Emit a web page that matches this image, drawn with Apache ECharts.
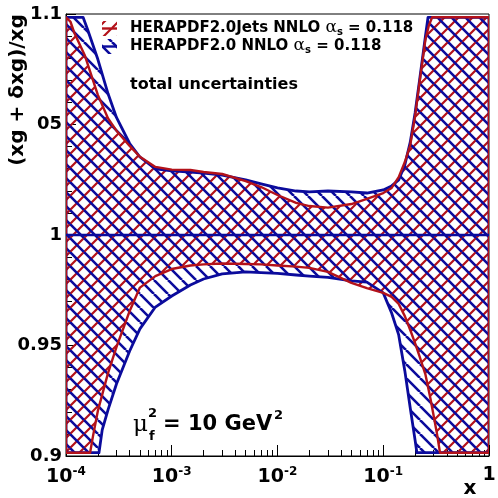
<!DOCTYPE html>
<html><head><meta charset="utf-8">
<script src="https://cdn.jsdelivr.net/npm/echarts@6/dist/echarts.min.js"></script>
<style>html,body{margin:0;padding:0;background:#fff}#c{width:498px;height:498px}</style>
</head><body><div id="c"></div>
<script>
// ---------------- data ----------------
// HERAPDF2.0 NNLO (blue) upper / lower edge of relative uncertainty band
const xBlueUp = [1e-4, 1.45e-4, 1.6e-4, 2e-4, 2.5e-4, 3e-4, 4e-4, 5e-4, 7e-4, 1e-3, 1.5e-3, 2e-3, 3e-3, 5e-3, 7e-3, 1e-2, 1.5e-2, 2e-2, 3e-2, 5e-2, 7e-2, 0.1, 0.12, 0.14, 0.16, 0.18, 0.2, 0.22, 0.25, 0.265, 1];
const blueUp  = [1.0985, 1.0985, 1.093, 1.0795, 1.0639, 1.0532, 1.0414, 1.0353, 1.0299, 1.029, 1.0285, 1.028, 1.0271, 1.0249, 1.0231, 1.0213, 1.0199, 1.0195, 1.0199, 1.0195, 1.019, 1.0204, 1.0222, 1.0249, 1.0317, 1.042, 1.0552, 1.0697, 1.0896, 1.0985, 1.0985];
const xBlueLo = [1e-4, 2.05e-4, 2.2e-4, 2.5e-4, 3e-4, 4e-4, 5e-4, 7e-4, 1e-3, 1.5e-3, 2e-3, 3e-3, 5e-3, 7e-3, 1e-2, 1.5e-2, 2e-2, 3e-2, 5e-2, 7e-2, 0.1, 0.12, 0.14, 0.16, 0.18, 0.2, 0.208, 1];
const blueLo  = [0.9015, 0.9015, 0.9118, 0.921, 0.9326, 0.9475, 0.9575, 0.9674, 0.9724, 0.9774, 0.9801, 0.9824, 0.9833, 0.983, 0.9826, 0.9819, 0.9814, 0.9808, 0.9792, 0.9787, 0.9738, 0.9647, 0.9548, 0.9385, 0.9217, 0.9072, 0.9015, 0.9015];
// HERAPDF2.0Jets NNLO (red)
const xRedUp = [1e-4, 1.1e-4, 1.2e-4, 1.5e-4, 2e-4, 2.5e-4, 3e-4, 4e-4, 5e-4, 7e-4, 1e-3, 1.5e-3, 2e-3, 3e-3, 5e-3, 7e-3, 1e-2, 1.5e-2, 2e-2, 3e-2, 5e-2, 7e-2, 0.1, 0.12, 0.14, 0.16, 0.18, 0.2, 0.22, 0.25, 0.27, 0.29, 1];
const redUp  = [1.0985, 1.0966, 1.0914, 1.0815, 1.0634, 1.0527, 1.0472, 1.0403, 1.0354, 1.0308, 1.0296, 1.0294, 1.0285, 1.0276, 1.0244, 1.0217, 1.0181, 1.0145, 1.0131, 1.0124, 1.014, 1.0163, 1.019, 1.0213, 1.0262, 1.033, 1.0407, 1.0538, 1.0688, 1.0882, 1.0948, 1.0985, 1.0985];
const xRedLo = [1e-4, 1.69e-4, 1.8e-4, 2e-4, 2.5e-4, 3e-4, 4e-4, 5e-4, 7e-4, 1e-3, 1.5e-3, 2e-3, 3e-3, 5e-3, 7e-3, 1e-2, 1.5e-2, 2e-2, 3e-2, 5e-2, 7e-2, 0.1, 0.12, 0.14, 0.16, 0.18, 0.2, 0.22, 0.25, 0.28, 0.3, 0.32, 0.344, 1];
const redLo  = [0.9015, 0.9015, 0.909, 0.9204, 0.9376, 0.9493, 0.9656, 0.9762, 0.9814, 0.9846, 0.9862, 0.9867, 0.9871, 0.9869, 0.9867, 0.9862, 0.9857, 0.9851, 0.9833, 0.9783, 0.976, 0.9738, 0.972, 0.9688, 0.9633, 0.957, 0.9511, 0.9452, 0.9371, 0.9258, 0.9181, 0.9109, 0.9015, 0.9015];
// central value (ratio = 1)
const xCentral = [1e-4, 1];
const central  = [1, 1];
// tick labels
const yTickValues = [0.9, 0.95, 1, 1.05, 1.1];
const yTickLabels = ['0.9', '0.95', '1', '05', '1.1'];
const xTickBase = ['10', '10', '10', '10', '1'];
const xTickExp  = ['-4', '-3', '-2', '-1', ''];
const legendNames = ['HERAPDF2.0Jets NNLO', 'HERAPDF2.0 NNLO'];
const alphaS = '0.118';

// ---------------- styling ----------------
const BLUE = '#0b0b9c';
const RED = '#b3121a';
const FONT = '"DejaVu Sans", "Liberation Sans", sans-serif';
const SERIF = '"DejaVu Serif", "Liberation Serif", serif';

function hatch(color, slash, s, w) {
  const c = document.createElement('canvas');
  c.width = s; c.height = s;
  const g = c.getContext('2d');
  g.strokeStyle = color; g.lineWidth = w;
  g.beginPath();
  for (const k of [-s, 0, s]) {
    if (slash) { g.moveTo(k, s); g.lineTo(k + s, 0); }
    else { g.moveTo(k, 0); g.lineTo(k + s, s); }
  }
  g.stroke();
  return { image: c, repeat: 'repeat' };
}
const redPat = hatch(RED, true, 14, 2.2);
const bluePat = hatch(BLUE, false, 14, 2.6);

function band(name, xu, yu, xl, yl, fill, stroke, lw, z) {
  return {
    type: 'custom', name: name, z: z, silent: true, clip: true,
    xAxisIndex: 0, yAxisIndex: 0,
    data: [[xu[0], yu[0]]],
    renderItem: function (params, api) {
      const pts = [];
      for (let i = 0; i < xu.length; i++) pts.push(api.coord([xu[i], yu[i]]));
      for (let i = xl.length - 1; i >= 0; i--) pts.push(api.coord([xl[i], yl[i]]));
      return { type: 'polygon', shape: { points: pts },
        style: { fill: fill || 'none', stroke: stroke || 'none', lineWidth: lw || 0, lineJoin: 'round' } };
    }
  };
}

const minorX = [];
for (let d = -4; d < 0; d++) for (let m = 2; m <= 9; m++) minorX.push(m * Math.pow(10, d));

const chart = echarts.init(document.getElementById('c'), null, { renderer: 'canvas' });
chart.setOption({
  animation: false,
  backgroundColor: '#fff',
  grid: { left: 66, right: 9, top: 14, bottom: 42, show: true, borderColor: '#000', borderWidth: 1, outerBoundsMode: 'none', containLabel: false },
  xAxis: [{
    type: 'log', logBase: 10, min: 1e-4, max: 1, interval: 1, position: 'bottom',
    axisLine: { show: true, onZero: false, lineStyle: { color: '#000', width: 1 } },
    axisTick: { show: true, inside: true, length: 11, lineStyle: { color: '#000', width: 1 } },
    minorTick: { show: false },
    splitLine: { show: false },
    axisLabel: {
      margin: 10,
      formatter: function (v) {
        const i = Math.round(Math.log10(v)) + 4;
        return xTickExp[i] ? '{b|' + xTickBase[i] + '}{s|' + xTickExp[i] + '}' : '{b|' + xTickBase[i] + '}';
      },
      rich: {
        b: { fontFamily: FONT, fontWeight: 'bold', fontSize: 19, color: '#000' },
        s: { fontFamily: FONT, fontWeight: 'bold', fontSize: 12, color: '#000', padding: [0, 0, 10, 0] }
      }
    }
  }, {
    type: 'log', logBase: 10, min: 1e-4, max: 1, position: 'bottom', offset: 0,
    axisLine: { show: false },
    axisTick: { show: true, inside: true, length: 6, customValues: minorX, lineStyle: { color: '#000', width: 1 } },
    axisLabel: { show: false },
    splitLine: { show: false }
  }],
  yAxis: {
    type: 'value', min: 0.9, max: 1.1, interval: 0.05,
    axisLine: { show: true, onZero: false, lineStyle: { color: '#000', width: 1 } },
    axisTick: { show: true, inside: true, length: 10, lineStyle: { color: '#000', width: 1 } },
    minorTick: { show: true, splitNumber: 5, length: 6, lineStyle: { color: '#000', width: 1 } },
    splitLine: { show: false },
    axisLabel: {
      margin: 4, fontFamily: FONT, fontWeight: 'bold', fontSize: 18, color: '#000',
      formatter: function (v) {
        const i = Math.round((v - yTickValues[0]) / 0.05);
        return yTickLabels[i];
      }
    }
  },
  series: [
    band(legendNames[0], xRedUp, redUp, xRedLo, redLo, redPat, null, 0, 1),
    band(legendNames[1], xBlueUp, blueUp, xBlueLo, blueLo, bluePat, null, 0, 2),
    band(legendNames[1] + ' edge', xBlueUp, blueUp, xBlueLo, blueLo, null, BLUE, 2.8, 3),
    band(legendNames[0] + ' edge', xRedUp, redUp, xRedLo, redLo, null, RED, 2.4, 4),
    {
      type: 'line', name: 'central', z: 5, silent: true, symbol: 'none',
      data: xCentral.map((x, i) => [x, central[i]]),
      lineStyle: { color: BLUE, width: 2.4 }
    }
  ],
  graphic: [
    // legend
    { type: 'rect', z: 10, shape: { x: 102, y: 21, width: 15, height: 15 }, style: { fill: redPat } },
    { type: 'line', z: 10, shape: { x1: 102, y1: 28.5, x2: 117, y2: 28.5 }, style: { stroke: RED, lineWidth: 2.4 } },
    { type: 'rect', z: 10, shape: { x: 102, y: 39, width: 15, height: 15 }, style: { fill: bluePat } },
    { type: 'line', z: 10, shape: { x1: 102, y1: 46.5, x2: 117, y2: 46.5 }, style: { stroke: BLUE, lineWidth: 2.4 } },
    { type: 'text', z: 10, x: 130, y: 28, style: {
        text: '{b|' + legendNames[0] + ' }{a|α}{s|s}{b| = ' + alphaS + '}', verticalAlign: 'middle', align: 'left',
        rich: {
          b: { fontFamily: FONT, fontWeight: 'bold', fontSize: 15, fill: '#000' },
          a: { fontFamily: SERIF, fontSize: 17, fill: '#000' },
          s: { fontFamily: FONT, fontWeight: 'bold', fontSize: 10, fill: '#000', padding: [8, 0, 0, 0] }
        } } },
    { type: 'text', z: 10, x: 130, y: 46, style: {
        text: '{b|' + legendNames[1] + ' }{a|α}{s|s}{b| = ' + alphaS + '}', verticalAlign: 'middle', align: 'left',
        rich: {
          b: { fontFamily: FONT, fontWeight: 'bold', fontSize: 15, fill: '#000' },
          a: { fontFamily: SERIF, fontSize: 17, fill: '#000' },
          s: { fontFamily: FONT, fontWeight: 'bold', fontSize: 10, fill: '#000', padding: [8, 0, 0, 0] }
        } } },
    { type: 'text', z: 10, x: 130, y: 85, style: { text: 'total uncertainties', font: 'bold 16px ' + FONT, fill: '#000', verticalAlign: 'middle' } },
    // scale label
    { type: 'text', z: 10, x: 133, y: 425, style: { text: 'μ', font: '23px ' + SERIF, fill: '#000', verticalAlign: 'middle' } },
    { type: 'text', z: 10, x: 148, y: 414, style: { text: '2', font: 'bold 13px ' + FONT, fill: '#000', verticalAlign: 'middle' } },
    { type: 'text', z: 10, x: 149, y: 437, style: { text: 'f', font: 'bold 13px ' + FONT, fill: '#000', verticalAlign: 'middle' } },
    { type: 'text', z: 10, x: 163, y: 425, style: { text: '= 10 GeV', font: 'bold 21px ' + FONT, fill: '#000', verticalAlign: 'middle' } },
    { type: 'text', z: 10, x: 274, y: 416, style: { text: '2', font: 'bold 13px ' + FONT, fill: '#000', verticalAlign: 'middle' } },
    // axis titles
    { type: 'text', z: 10, x: 18, y: 90, rotation: Math.PI / 2, style: { text: '(xg + δxg)/xg', font: 'bold 20px ' + FONT, fill: '#000', align: 'center', verticalAlign: 'middle' } },
    { type: 'text', z: 10, x: 470, y: 489, style: { text: 'x', font: 'bold 20px ' + FONT, fill: '#000', align: 'center', verticalAlign: 'middle' } }
  ]
});
</script>
</body></html>
